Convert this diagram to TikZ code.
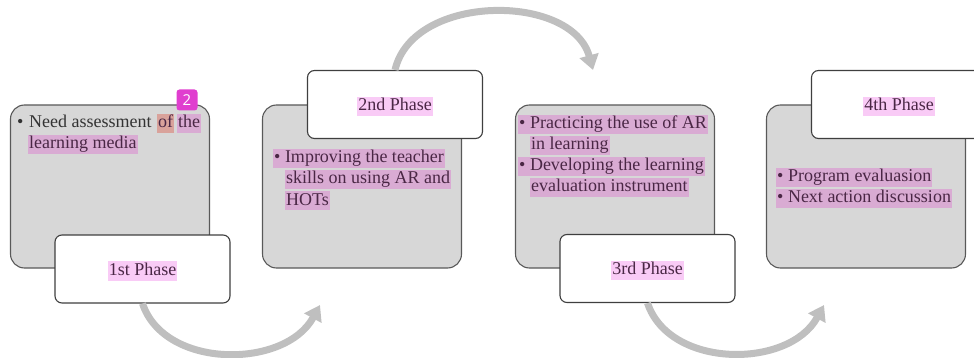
\documentclass[tikz,border=0pt]{standalone}
\usepackage{fontspec}
\setmainfont{Liberation Serif}
\newfontfamily\notefont{Open Sans}
\usepackage{xcolor}
\usetikzlibrary{positioning,arrows.meta}

\definecolor{boxgray}{HTML}{D7D7D7}
\definecolor{boxline}{HTML}{595959}
\definecolor{labelline}{HTML}{3F3F3F}
\definecolor{flowgray}{HTML}{BFBFBF}
\definecolor{txtgray}{HTML}{333333}
\definecolor{hltext}{HTML}{4A2745}
\definecolor{hlwhite}{HTML}{F9CBF6}
\definecolor{hlgray}{HTML}{D9ABD3}
\definecolor{hlof}{HTML}{D9A29B}
\definecolor{notepink}{HTML}{E03ECF}

\newcommand{\bodysize}{\fontsize{18}{21}\selectfont}

\begin{document}
\begin{tikzpicture}[x=1pt,y=-1pt,
  phasebox/.style={draw=boxline, fill=boxgray, line width=1.1pt, rounded corners=14pt,
    minimum width=199pt, minimum height=163pt},
  labelbox/.style={draw=labelline, fill=white, line width=1.1pt, rounded corners=7pt,
    minimum width=175pt, minimum height=68pt},
  txt/.style={anchor=base west, inner xsep=1pt, inner ysep=0.5pt, text height=13.5pt,
    text depth=5pt, text=txtgray, font=\bodysize},
  hlg/.style={txt, fill=hlgray, text=hltext},
  hlw/.style={txt, fill=hlwhite, text=hltext, anchor=center, yshift=-2pt},
  hlofs/.style={txt, fill=hlof, text=hltext},
  flow/.style={draw=flowgray, line width=7pt, -{Triangle[length=15pt,width=19pt]}},
  note/.style={fill=notepink, text=white, rounded corners=3pt, minimum size=21pt,
    inner sep=0pt, font=\notefont\fontsize{15}{15}\selectfont}]
\useasboundingbox (0,0) rectangle (974,358);
\clip (0,0) rectangle (974,358);

\node[phasebox] (g1) at (110,186.5) {};
\node[phasebox] (g2) at (362,186.5) {};
\node[phasebox] (g3) at (615,186.5) {};
\node[phasebox] (g4) at (866,186.5) {};

\node[labelbox] (w1) at (142.5,269) {};
\node[labelbox] (w2) at (395,104.5) {};
\node[labelbox] (w3) at (647.5,268.5) {};
\node[labelbox] (w4) at (899,104.5) {};

\node[hlw] (l1) at (w1.center) {1st Phase};
\node[hlw] (l2) at (w2.center) {2nd Phase};
\node[hlw] (l3) at (w3.center) {3rd Phase};
\node[hlw] (l4) at (w4.center) {4th Phase};

% phase 1
\node[txt] (b1) at (16,128) {\textbullet};
\node[txt] (t1a) at (28,128) {Need assessment};
\node[hlofs] (t1b) at (157,128) {of};
\node[hlg] (t1c) at (177,128) {the};
\node[hlg] (t1d) at (28,149) {learning media};

% phase 2
\node[hlg] (t2a) at (273,163) {\textbullet\ Improving the teacher};
\node[hlg] (t2b) at (285,184) {skills on using AR and};
\node[hlg] (t2c) at (285,205) {HOTs};

% phase 3
\node[hlg] (t3a) at (518,129) {\textbullet\ Practicing the use of AR};
\node[hlg] (t3b) at (530,150) {in learning};
\node[hlg] (t3c) at (518,171) {\textbullet\ Developing the learning};
\node[hlg] (t3d) at (530,192) {evaluation instrument};

% phase 4
\node[hlg] (t4a) at (776,182) {\textbullet\ Program evaluasion};
\node[hlg] (t4b) at (776,203) {\textbullet\ Next action discussion};

\coordinate (a1end) at (320,305);
\coordinate (a2end) at (593,70);
\coordinate (a3end) at (824,305);
\draw[flow] (w1.south) .. controls +(22,66) and +(-35,64) .. (a1end);
\draw[flow] (w2.north) .. controls +(18,-77) and +(-21,-77) .. (a2end);
\draw[flow] (w3.south) .. controls +(22,66) and +(-35,64) .. (a3end);

\node[note] (n2) at (187,100) {2};
\end{tikzpicture}
\end{document}
